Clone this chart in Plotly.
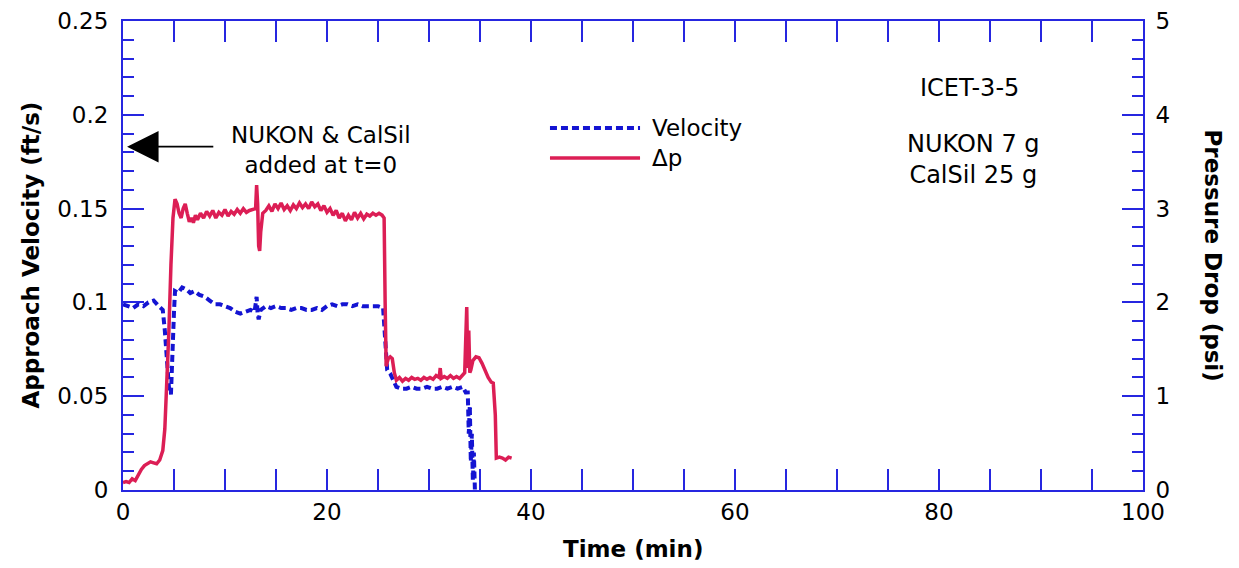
import plotly.graph_objects as go

# Velocity (ft/s) vs time (min), left axis
vel_t = [0.0, 0.5, 1.0, 1.5, 2.0, 2.5, 3.0, 3.5, 3.9, 4.1, 4.3, 4.5, 4.7, 4.8, 5.0, 5.1,
         5.4, 5.8, 6.2, 6.6, 7.0, 7.5, 8.0, 8.5, 9.0, 9.5, 10.0, 10.5, 11.0, 11.5, 12.0,
         12.5, 12.9, 13.1, 13.2, 13.3, 13.5, 14.0, 14.5, 15.0, 15.5, 16.0, 16.5, 17.0,
         17.5, 18.0, 18.5, 19.0, 19.5, 20.0, 20.5, 21.0, 21.5, 22.0, 22.5, 23.0, 23.5,
         24.0, 24.5, 25.0, 25.5, 25.7, 25.9, 26.2, 26.5, 26.8, 27.3, 27.8, 28.3, 28.8,
         29.3, 29.8, 30.3, 30.8, 31.3, 31.8, 32.3, 32.8, 33.3, 33.6, 33.8, 33.9, 34.0,
         34.1, 34.2, 34.3, 34.4, 34.5]
vel = [0.099, 0.098, 0.097, 0.099, 0.098, 0.100, 0.101, 0.098, 0.096, 0.085, 0.070, 0.055,
       0.051, 0.070, 0.095, 0.106, 0.105, 0.108, 0.107, 0.105, 0.106, 0.104, 0.103, 0.101,
       0.099, 0.099, 0.098, 0.097, 0.095, 0.094, 0.095, 0.096, 0.095, 0.103, 0.094, 0.091,
       0.096, 0.098, 0.097, 0.098, 0.097, 0.097, 0.096, 0.097, 0.097, 0.096, 0.096, 0.097,
       0.096, 0.098, 0.099, 0.098, 0.099, 0.099, 0.098, 0.099, 0.098, 0.098, 0.098, 0.098,
       0.097, 0.080, 0.064, 0.062, 0.058, 0.055, 0.054, 0.054, 0.055, 0.054, 0.054, 0.055,
       0.054, 0.054, 0.055, 0.054, 0.055, 0.054, 0.055, 0.052, 0.052, 0.030, 0.045, 0.015,
       0.030, 0.005, 0.020, 0.000]

# Pressure drop (psi) vs time (min), right axis
dp_t = [0.0, 0.3, 0.6, 0.9, 1.2, 1.5, 1.8, 2.1, 2.4, 2.7, 3.0, 3.3, 3.6, 3.9, 4.1, 4.3,
        4.5, 4.7, 4.9, 5.1, 5.3, 5.5, 5.7, 5.9, 6.1, 6.3, 6.5, 6.7, 6.9, 7.1, 7.3, 7.6,
        7.9, 8.2, 8.5, 8.8, 9.1, 9.4, 9.7, 10.0, 10.3, 10.6, 10.9, 11.2, 11.5, 11.8, 12.1,
        12.4, 12.7, 13.0, 13.1, 13.2, 13.3, 13.4, 13.5, 13.7, 14.0, 14.3, 14.6, 14.9, 15.2,
        15.5, 15.8, 16.1, 16.4, 16.7, 17.0, 17.3, 17.6, 17.9, 18.2, 18.5, 18.8, 19.1, 19.4,
        19.7, 20.0, 20.3, 20.6, 20.9, 21.2, 21.5, 21.8, 22.1, 22.4, 22.7, 23.0, 23.3, 23.6,
        23.9, 24.2, 24.5, 24.8, 25.1, 25.4, 25.6, 25.7, 25.8, 26.0, 26.2, 26.4, 26.6, 26.8,
        27.1, 27.4, 27.7, 28.0, 28.3, 28.6, 28.9, 29.2, 29.5, 29.8, 30.1, 30.4, 30.7, 31.0,
        31.1, 31.2, 31.5, 31.8, 32.1, 32.4, 32.7, 33.0, 33.3, 33.5, 33.7, 33.8, 33.9, 34.0,
        34.1, 34.3, 34.6, 34.9, 35.2, 35.5, 35.8, 36.1, 36.3, 36.5, 36.6, 36.9, 37.2, 37.5,
        37.8, 38.1]
dp = [0.08, 0.09, 0.08, 0.12, 0.10, 0.17, 0.22, 0.26, 0.28, 0.30, 0.29, 0.28, 0.32, 0.42,
      0.65, 1.10, 1.70, 2.40, 2.90, 3.10, 3.05, 2.95, 2.90, 3.00, 3.05, 2.95, 2.86, 2.90,
      2.85, 2.93, 2.88, 2.95, 2.90, 2.97, 2.92, 2.98, 2.90, 2.96, 2.93, 2.99, 2.92, 2.97,
      2.94, 2.99, 2.95, 3.00, 2.96, 2.98, 2.99, 3.00, 3.25, 3.05, 2.60, 2.55, 2.75, 2.95,
      2.98, 3.03, 2.97, 3.05, 3.00, 3.06, 2.99, 3.03, 2.98, 3.04, 3.00, 3.06, 3.01, 3.05,
      3.00, 3.07, 3.02, 3.05, 2.98, 3.03, 2.96, 3.00, 2.93, 2.98, 2.90, 2.95, 2.87, 2.93,
      2.88, 2.96, 2.90, 2.95, 2.89, 2.94, 2.92, 2.95, 2.93, 2.95, 2.93, 2.90, 2.00, 1.32,
      1.40, 1.42, 1.40, 1.25, 1.17, 1.20, 1.16, 1.19, 1.17, 1.20, 1.18, 1.19, 1.17, 1.20,
      1.18, 1.20, 1.18, 1.22, 1.20, 1.30, 1.19, 1.21, 1.19, 1.22, 1.19, 1.21, 1.19, 1.22,
      1.25, 1.95, 1.30, 1.70, 1.25, 1.28, 1.38, 1.42, 1.41, 1.35, 1.27, 1.20, 1.15, 1.14,
      0.80, 0.34, 0.35, 0.34, 0.32, 0.35, 0.34]

BLUE = "#1414d2"
RED = "#dc1e55"
AXIS = "#2626e0"
FONT = "DejaVu Sans"

fig = go.Figure()
fig.add_trace(go.Scatter(x=vel_t, y=vel, mode="lines", name="Velocity",
                         line=dict(color=BLUE, width=4, dash="7px,4px")))
fig.add_trace(go.Scatter(x=dp_t, y=dp, mode="lines", name="Δp", yaxis="y2",
                         line=dict(color=RED, width=3.5)))

axis_common = dict(showline=True, linecolor=AXIS, linewidth=2, ticks="inside",
                   tickcolor=AXIS, tickwidth=2, ticklen=21, showgrid=False,
                   zeroline=False, tickfont=dict(family=FONT, size=23, color="black"))

# the page body adds an 8px offset, so margins are shifted to compensate
fig.update_layout(
    width=1239, height=568,
    margin=dict(l=115, r=104, t=13, b=86, autoexpand=False),
    paper_bgcolor="white", plot_bgcolor="white",
    showlegend=False,
    font=dict(family=FONT, color="black"),
    xaxis=dict(range=[0, 100], dtick=20, mirror="allticks", ticklabelstandoff=0,
               minor=dict(dtick=5, ticks="inside", ticklen=11, tickcolor=AXIS, tickwidth=2),
               **axis_common),
    yaxis=dict(range=[0, 0.25], dtick=0.05, ticklabelstandoff=8,
               minor=dict(dtick=0.01, ticks="inside", ticklen=11, tickcolor=AXIS, tickwidth=2),
               **axis_common),
    yaxis2=dict(range=[0, 5], dtick=1, overlaying="y", side="right", ticklabelstandoff=6,
                minor=dict(dtick=0.2, ticks="inside", ticklen=11, tickcolor=AXIS, tickwidth=2),
                **axis_common),
)

# axis titles
fig.add_annotation(text="<b>Approach Velocity (ft/s)</b>", xref="paper", yref="paper",
                   x=0, y=0.5, xshift=-93, xanchor="center", yanchor="middle",
                   textangle=-90, showarrow=False, font=dict(size=23, family=FONT))
fig.add_annotation(text="<b>Time (min)</b>", xref="paper", yref="paper",
                   x=0.5, y=0, yshift=-59, xanchor="center", yanchor="middle",
                   showarrow=False, font=dict(size=23, family=FONT))
fig.add_annotation(text="<b>Pressure Drop (psi)</b>", xref="paper", yref="paper",
                   x=1, y=0.5, xshift=70, xanchor="center", yanchor="middle",
                   textangle=90, showarrow=False, font=dict(size=23, family=FONT))

# notes
fig.add_annotation(text="NUKON & CalSil<br>added at t=0", x=19.4, y=0.1812,
                   showarrow=False, font=dict(size=23, family=FONT))
fig.add_annotation(text="", x=0.4, y=0.183, ax=9.0, ay=0.183, axref="x", ayref="y",
                   showarrow=True, arrowhead=2, arrowsize=3.5, arrowwidth=1.8,
                   arrowcolor="black")
fig.add_annotation(text="ICET-3-5", x=83.0, y=0.2143, showarrow=False,
                   font=dict(size=24, family=FONT))
fig.add_annotation(text="NUKON 7 g<br>CalSil 25 g", x=83.4, y=0.1764, showarrow=False,
                   font=dict(size=24, family=FONT))

# legend drawn as samples + labels
fig.add_shape(type="line", xref="paper", yref="paper", x0=0.4186, x1=0.5069,
              y0=0.7719, y1=0.7719, line=dict(color=BLUE, width=4, dash="7px,4px"))
fig.add_shape(type="line", xref="paper", yref="paper", x0=0.4186, x1=0.5069,
              y0=0.7079, y1=0.7079, line=dict(color=RED, width=3.5))
fig.add_annotation(text="Velocity", xref="paper", yref="paper", x=0.5167, y=0.7719,
                   xanchor="left", yanchor="middle", showarrow=False,
                   font=dict(size=23, family=FONT))
fig.add_annotation(text="Δp", xref="paper", yref="paper", x=0.5167, y=0.7079,
                   xanchor="left", yanchor="middle", showarrow=False,
                   font=dict(size=23, family=FONT))

fig.write_html("out.html")
